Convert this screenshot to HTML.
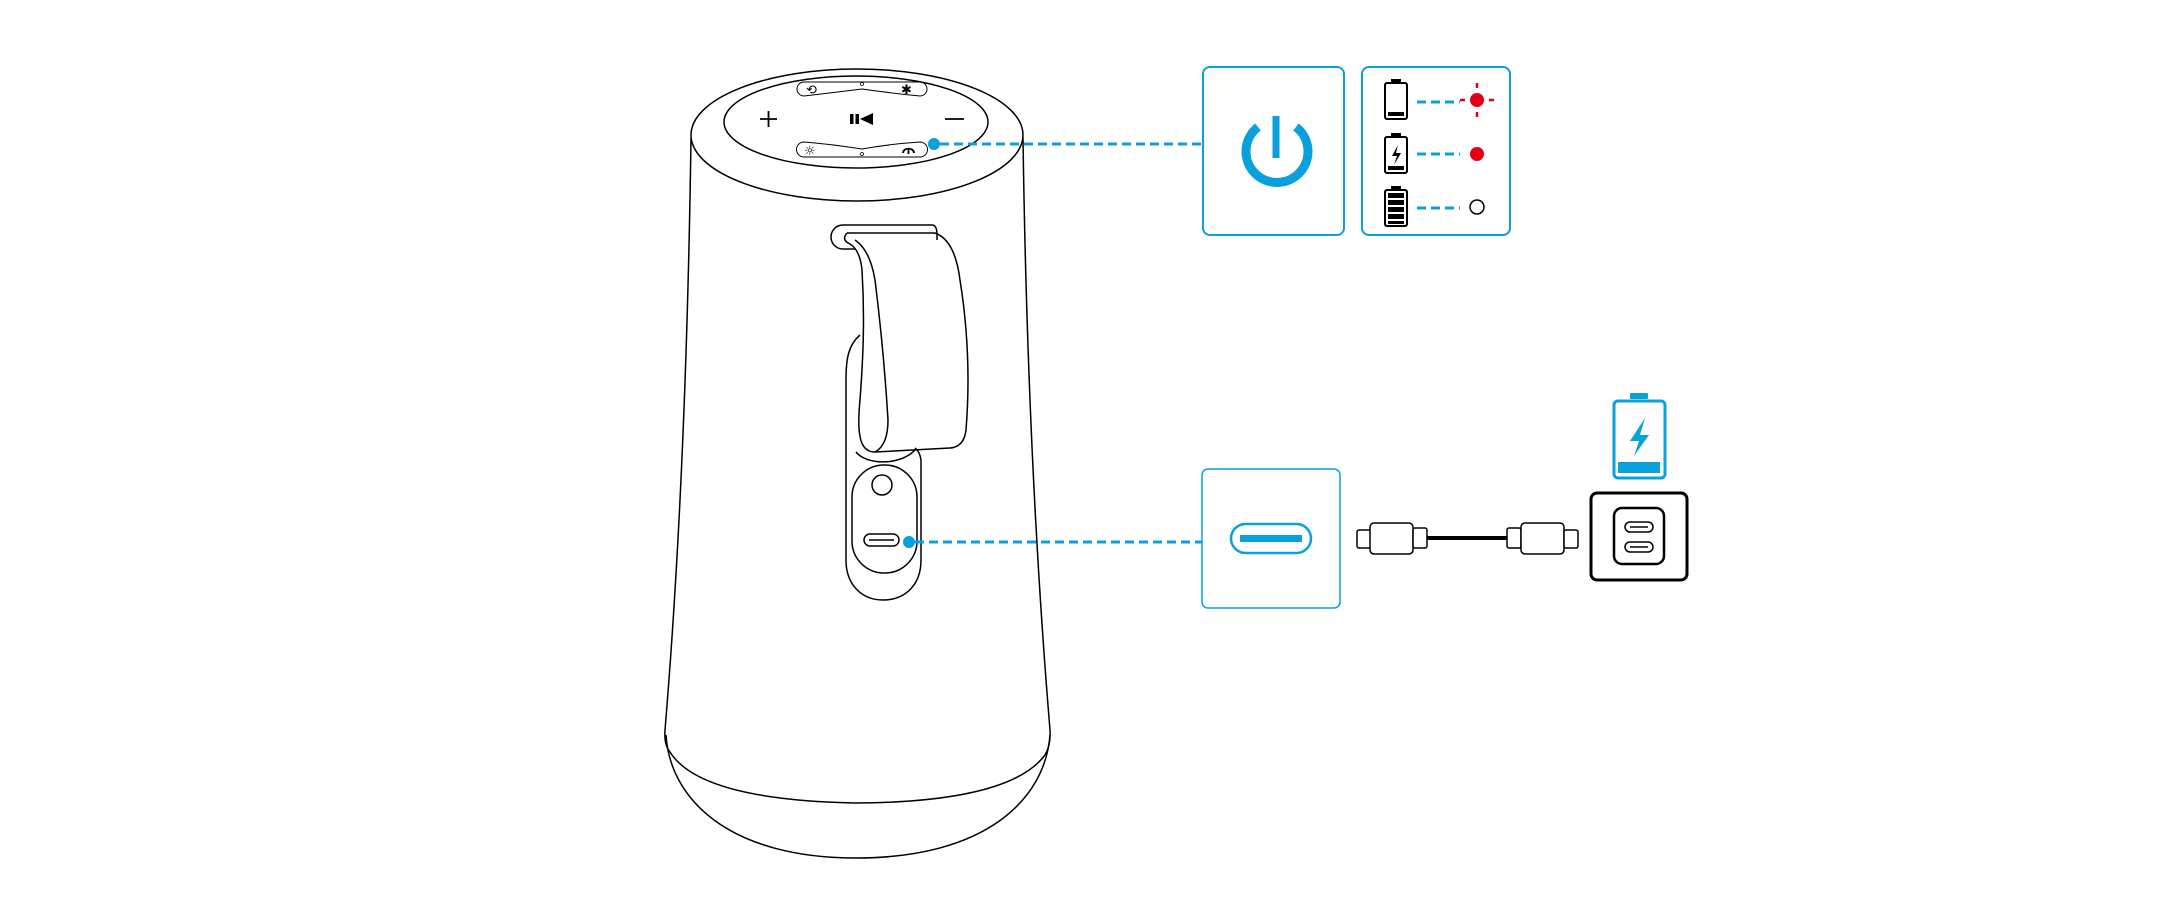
<!DOCTYPE html>
<html><head><style>body{margin:0;background:#fff}svg{display:block}</style></head>
<body>
<svg width="2180" height="906" viewBox="0 0 2180 906" xmlns="http://www.w3.org/2000/svg" fill="none" stroke="#000" stroke-width="1.5">
<!-- body -->
<path d="M691,138 C688,350 680,550 665,730 Q664,745 670,752"/>
<path d="M1023,138 C1026,350 1035,550 1050,730 Q1051,745 1045,755"/>
<path d="M670,752 Q700,800 856,803 Q1010,802 1045,755"/>
<path d="M666,735 C670,800 730,858 856,858 C985,858 1045,800 1050,735"/>
<!-- top -->
<ellipse cx="857" cy="135" rx="166" ry="66"/>
<ellipse cx="856" cy="122" rx="132" ry="46"/>
<path d="M804,82 H920 A7,7 0 0 1 920,96 Q890,93 862,89 Q830,93 804,96 A7,7 0 0 1 804,82Z" stroke-width="1"/>
<path d="M804,142 Q830,144 862,149 Q890,144 920,142 A7.5,7.5 0 0 1 920,157 H804 A7.5,7.5 0 0 1 804,142Z" stroke-width="1"/>
<circle cx="862" cy="84" r="1.5" stroke-width="0.8"/>
<circle cx="862" cy="154" r="1.5" stroke-width="0.8"/>
<text x="806" y="94" font-family="DejaVu Sans,sans-serif" font-size="13" fill="#000" stroke="none">⟲</text>
<text x="901" y="94" font-family="DejaVu Sans,sans-serif" font-size="13" fill="#000" stroke="none" font-weight="bold">✱</text>
<text x="804" y="155" font-family="DejaVu Sans,sans-serif" font-size="13" fill="#000" stroke="none">☼</text>
<path d="M903,153 a5,4 0 1 1 11,0" stroke-width="1.8"/><path d="M908.5,148 v6" stroke-width="1.8"/>
<path d="M760,119 h17 M768.5,111 v16" stroke-width="1.8"/>
<path d="M945,119 h19" stroke-width="1.8"/>
<rect x="850" y="114" width="3.5" height="10" fill="#000" stroke="none"/>
<rect x="855.5" y="114" width="3.5" height="10" fill="#000" stroke="none"/>
<path d="M860,119 L873,113 V125Z" fill="#000" stroke="none"/>
<!-- handle backplate -->
<path d="M860,335 C848,345 846,360 846,380 V560 C846,585 862,600 883,600 C905,600 921,585 921,560 V460 Q920,452 915,448"/>
<path d="M856,452 C866,465 900,466 915,450"/>
<rect x="852" y="465" width="65" height="108" rx="32"/>
<circle cx="882" cy="485" r="10"/>
<rect x="864" y="534" width="35" height="12" rx="6"/>
<path d="M869,540 h25"/>
<!-- strap -->
<path d="M843,225 H932 Q937,225 937,235 V240"/>
<path d="M843,225 A12,12 0 0 0 843,249 H855"/>
<path d="M847,233 Q841,240 850,244 Q860,250 862,270 C865,320 863,360 860,400 C856,440 862,452 875,452"/>
<path d="M847,233 H935 Q955,240 960,280 C968,330 970,380 966,430 Q964,447 950,448 L875,452"/>
<path d="M855,240 Q870,250 875,280 C880,320 885,370 888,420 Q888,445 875,452" />
<!-- connectors -->
<g stroke="#0aa0dc" stroke-width="3" stroke-dasharray="9,5">
<path d="M940,144 H1203"/><path d="M915,542 H1202"/>
<path d="M1417,102 H1460"/><path d="M1417,154 H1460"/><path d="M1417,208 H1460"/>
</g>
<circle cx="934" cy="144" r="6" fill="#0aa0dc" stroke="none"/>
<circle cx="909" cy="542" r="6" fill="#0aa0dc" stroke="none"/>
<!-- power box -->
<rect x="1203" y="67" width="141" height="168" rx="7" stroke="#0aa0dc" stroke-width="2"/>
<path d="M1258,127 A31,31 0 1 0 1296,127" stroke="#0aa0dc" stroke-width="9"/>
<path d="M1276,116 V158" stroke="#0aa0dc" stroke-width="7"/>
<!-- battery box -->
<rect x="1362" y="67" width="148" height="168" rx="7" stroke="#0aa0dc" stroke-width="2"/>
<g stroke-width="2">
<rect x="1385" y="83" width="22" height="36" rx="2"/><rect x="1392" y="80" width="8" height="3" fill="#000"/>
<rect x="1388" y="112" width="16" height="4" fill="#000" stroke="none"/>
<rect x="1385" y="137" width="22" height="36" rx="2"/><rect x="1392" y="134" width="8" height="3" fill="#000"/>
<rect x="1388" y="166" width="16" height="4" fill="#000" stroke="none"/>
<path d="M1398,145 L1392,156 H1397 L1394,165 L1401,153 H1396Z" fill="#000" stroke="none"/>
<rect x="1385" y="190" width="22" height="36" rx="2"/><rect x="1392" y="187" width="8" height="3" fill="#000"/>
</g>
<g fill="#000" stroke="none">
<rect x="1388" y="193" width="16" height="5"/><rect x="1388" y="200" width="16" height="5"/><rect x="1388" y="207" width="16" height="5"/><rect x="1388" y="214" width="16" height="5"/><rect x="1388" y="221" width="16" height="3"/>
</g>
<circle cx="1477" cy="100" r="7" fill="#e30016" stroke="none"/>
<path d="M1477,83 v5 M1477,112 v5 M1460,100 h5 M1489,100 h5" stroke="#e30016" stroke-width="2.5"/>
<circle cx="1477" cy="154" r="7" fill="#e30016" stroke="none"/>
<circle cx="1477" cy="207" r="7" stroke-width="1.5"/>
<!-- usb box -->
<rect x="1202" y="469" width="138" height="139" rx="6" stroke="#0aa0dc" stroke-width="1.5"/>
<rect x="1231" y="524" width="80" height="29" rx="14.5" stroke="#0aa0dc" stroke-width="2.5"/>
<rect x="1240" y="535" width="62" height="7" fill="#0aa0dc" stroke="none"/>
<!-- cable -->
<g stroke-width="1.5" fill="#fff">
<rect x="1357" y="530" width="14" height="18" rx="2"/>
<rect x="1370" y="523" width="43" height="31" rx="4"/>
<rect x="1413" y="528" width="14" height="20" rx="2"/>
<rect x="1507" y="528" width="14" height="20" rx="2"/>
<rect x="1521" y="523" width="43" height="31" rx="4"/>
<rect x="1564" y="530" width="14" height="18" rx="2"/>
</g>
<path d="M1427,538 H1507" stroke-width="4"/>
<!-- outlet -->
<rect x="1591" y="493" width="96" height="87" rx="6" stroke-width="3"/>
<rect x="1614" y="508" width="50" height="56" rx="8" stroke-width="2.5"/>
<rect x="1625" y="522" width="28" height="10" rx="5" stroke-width="1.5"/>
<rect x="1625" y="542" width="28" height="10" rx="5" stroke-width="1.5"/>
<path d="M1630,527 h18 M1630,547 h18" stroke-width="1.5"/>
<!-- blue battery -->
<rect x="1614" y="401" width="51" height="77" rx="4" stroke="#0aa0dc" stroke-width="3"/>
<rect x="1630" y="393" width="18" height="6" rx="1" fill="#0aa0dc" stroke="none"/>
<rect x="1618" y="462" width="42" height="11" fill="#0aa0dc" stroke="none"/>
<path d="M1645,418 L1630,441 H1639 L1634,456 L1649,435 H1640Z" fill="#0aa0dc" stroke="none"/>
</svg>
</body></html>
